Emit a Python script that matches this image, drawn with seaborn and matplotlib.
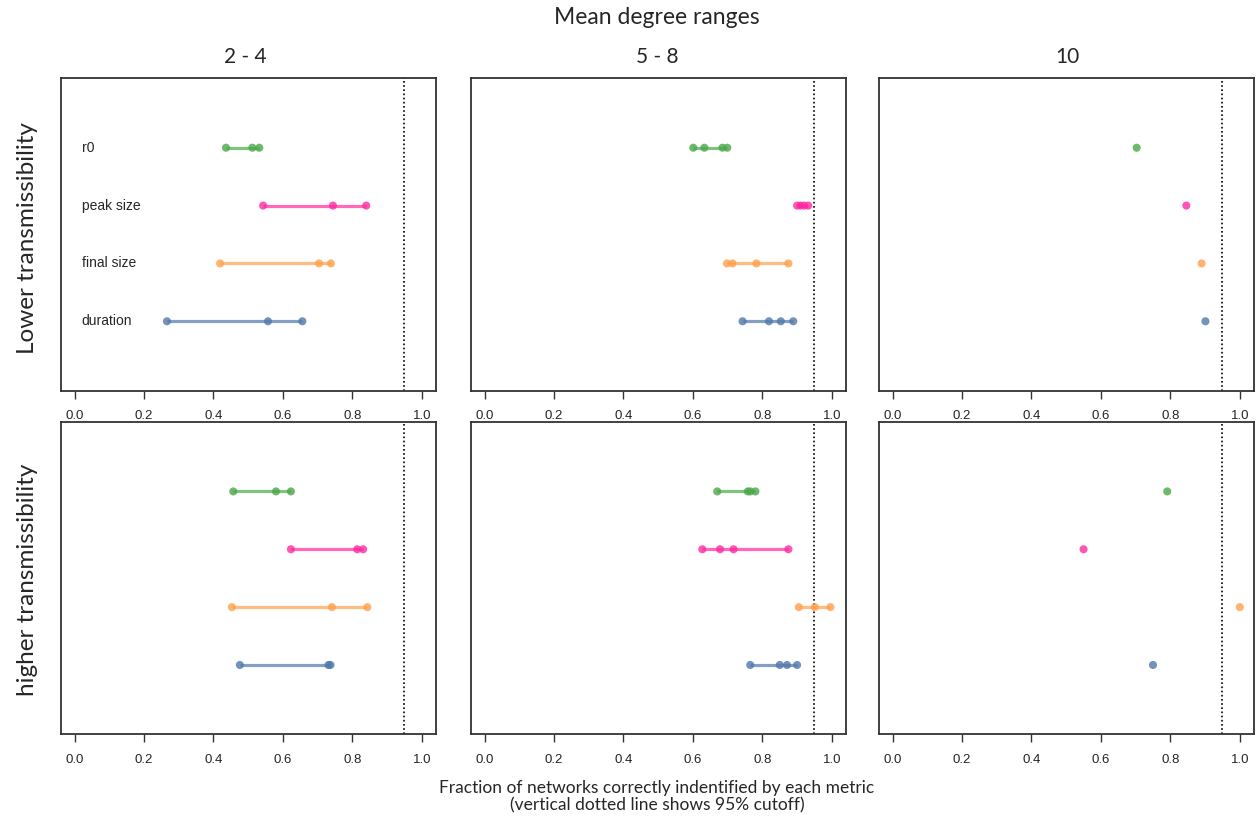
import numpy as np
import pandas as pd
import matplotlib
matplotlib.use("Agg")
import matplotlib.pyplot as plt
import seaborn as sns

sns.set_theme(style="white")
plt.rcParams['font.family'] = ['Liberation Sans', 'DejaVu Sans']

metrics = ["r0", "peak size", "final size", "duration"]
metric_rows = [4, 3, 2, 1]
colors = ["#4aa84a", "#ff2aa0", "#ffa04a", "#4f78aa"]
degree_ranges = ["2 - 4", "5 - 8", "10"]
transmissibility = ["Lower transmissibility", "higher transmissibility"]
cutoff = 0.95

# values[transmissibility][degree range][metric] -> list of fractions
lower_2_4 = {"r0": [0.436, 0.512, 0.532],
             "peak size": [0.543, 0.744, 0.840],
             "final size": [0.419, 0.704, 0.738],
             "duration": [0.266, 0.557, 0.656]}
lower_5_8 = {"r0": [0.601, 0.633, 0.685, 0.699],
             "peak size": [0.900, 0.910, 0.920, 0.932],
             "final size": [0.698, 0.714, 0.783, 0.875],
             "duration": [0.743, 0.819, 0.853, 0.889]}
lower_10 = {"r0": [0.703], "peak size": [0.846], "final size": [0.890], "duration": [0.901]}
higher_2_4 = {"r0": [0.457, 0.580, 0.623],
              "peak size": [0.623, 0.814, 0.831],
              "final size": [0.453, 0.741, 0.843],
              "duration": [0.476, 0.731, 0.737]}
higher_5_8 = {"r0": [0.670, 0.758, 0.765, 0.780],
              "peak size": [0.627, 0.678, 0.717, 0.875],
              "final size": [0.905, 0.951, 0.996],
              "duration": [0.765, 0.850, 0.871, 0.900]}
higher_10 = {"r0": [0.791], "peak size": [0.550], "final size": [1.0], "duration": [0.750]}

panels = [[lower_2_4, lower_5_8, lower_10], [higher_2_4, higher_5_8, higher_10]]

fig = plt.figure(figsize=(12.57, 8.19), dpi=100)
W, H = 1257, 819
col_left = [60.7, 470.7, 878.7]
row_top = [78.3, 422.0]
pw, ph = 375, 312.4

palette = dict(zip(metrics, colors))
rowmap = dict(zip(metrics, metric_rows))

for r in range(2):
    for c in range(3):
        ax = fig.add_axes([col_left[c] / W, 1 - (row_top[r] + ph) / H, pw / W, ph / H])
        recs = []
        for m in metrics:
            for v in panels[r][c][m]:
                recs.append({"metric": m, "value": v, "row": rowmap[m]})
        df = pd.DataFrame(recs)
        for m in metrics:
            sub = df[df.metric == m]
            ax.plot([sub.value.min(), sub.value.max()], [rowmap[m]] * 2,
                    color=palette[m], lw=2.3, alpha=0.7, solid_capstyle='butt', zorder=2)
        sns.scatterplot(data=df, x="value", y="row", hue="metric", palette=palette,
                        s=34, alpha=0.8, edgecolor=None, linewidth=0, legend=False,
                        ax=ax, zorder=3)
        ax.axvline(cutoff, color="black", ls=(0, (1.0, 1.5)), lw=1.2, zorder=1)
        ax.set_xlim(-0.04, 1.04)
        ax.set_ylim(-0.2, 5.2)
        ax.set_yticks([])
        ax.set_xticks([0, 0.2, 0.4, 0.6, 0.8, 1.0])
        ax.set_xticklabels(["0.0", "0.2", "0.4", "0.6", "0.8", "1.0"], fontsize=9.5)
        ax.tick_params(axis="x", direction="out", length=6, width=1, color="#333333",
                       bottom=True, pad=8)
        ax.set_xlabel("")
        ax.set_ylabel("")
        for s in ax.spines.values():
            s.set_color("#333333")
            s.set_linewidth(1.3)
        if r == 0 and c == 0:
            for m in metrics:
                ax.text(0.02, rowmap[m], m, fontsize=10, ha="left", va="center")

title_font = ['Lato', 'DejaVu Sans']
fig.text(657 / W, 1 - 18 / H, "Mean degree ranges", ha="center", va="center",
         fontsize=16.5, family=title_font)
col_centers = [245, 657, 1067]
for c in range(3):
    fig.text(col_centers[c] / W, 1 - 57 / H, degree_ranges[c], ha="center", va="center",
             fontsize=15, family=title_font)
row_centers = [238, 580]
for r in range(2):
    fig.text(28 / W, 1 - row_centers[r] / H, transmissibility[r], ha="center", va="center",
             rotation=90, fontsize=17.5, family=title_font)
fig.text(657 / W, 1 - 797 / H,
         "Fraction of networks correctly indentified by each metric\n(vertical dotted line shows 95% cutoff)",
         ha="center", va="center", fontsize=12.5, family=title_font, linespacing=1.1)

fig.savefig("out.png", dpi=100)
